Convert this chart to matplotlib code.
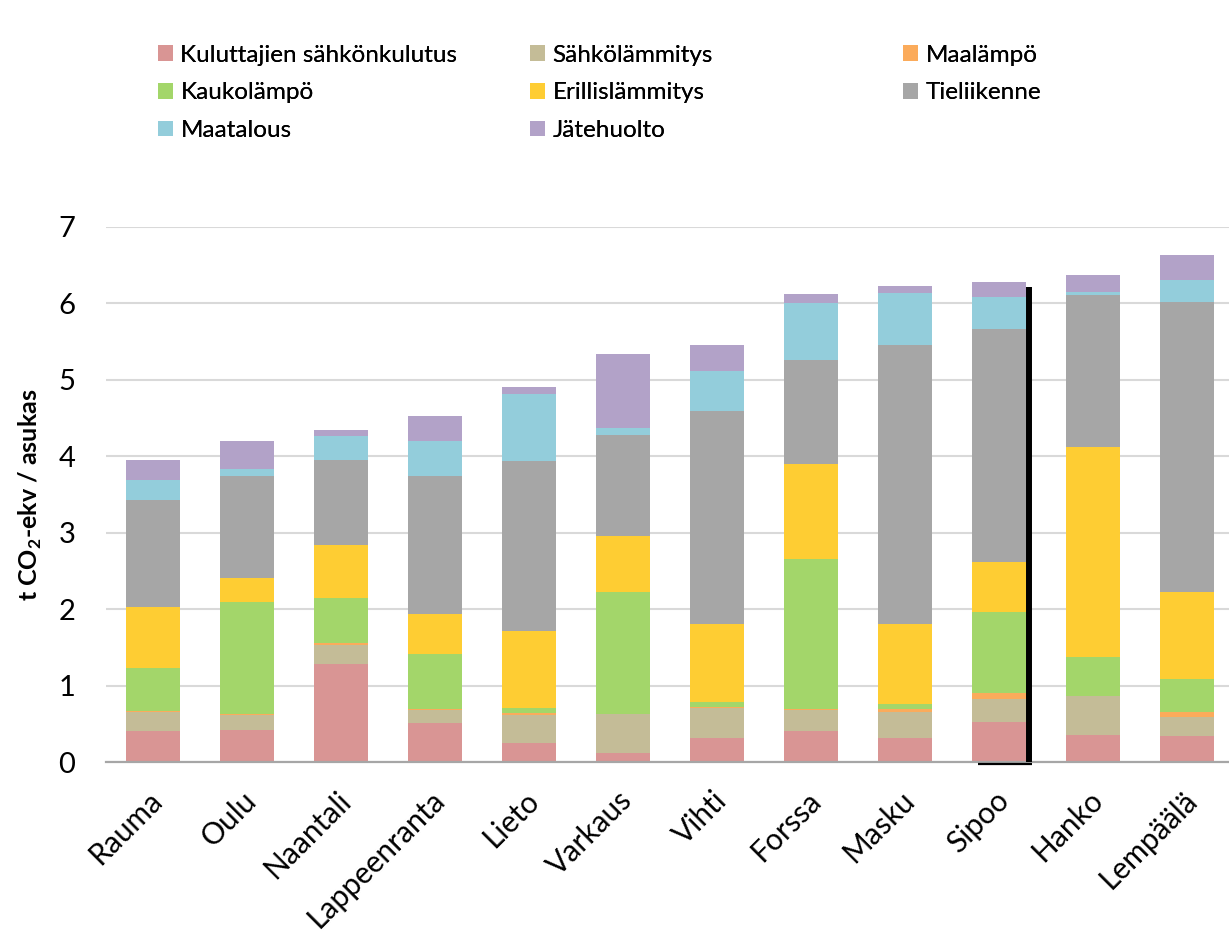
import matplotlib
matplotlib.use("Agg")
import matplotlib.pyplot as plt
import matplotlib.transforms as mtransforms
from matplotlib.patches import Patch
import numpy as np

plt.rcParams['font.family'] = ['Lato', 'DejaVu Sans']
plt.rcParams['mathtext.fontset'] = 'custom'
plt.rcParams['mathtext.rm'] = 'Lato'
plt.rcParams['mathtext.bf'] = 'Lato:bold'

cities = ["Rauma", "Oulu", "Naantali", "Lappeenranta", "Lieto", "Varkaus",
          "Vihti", "Forssa", "Masku", "Sipoo", "Hanko", "Lempäälä"]

series_names = ["Kuluttajien sähkönkulutus", "Sähkölämmitys", "Maalämpö",
                "Kaukolämpö", "Erillislämmitys", "Tieliikenne",
                "Maatalous", "Jätehuolto"]

kuluttajien = [0.40, 0.42, 1.28, 0.51, 0.25, 0.12, 0.32, 0.41, 0.32, 0.53, 0.35, 0.34]
sahkolammitys = [0.26, 0.19, 0.25, 0.17, 0.37, 0.51, 0.39, 0.27, 0.33, 0.30, 0.51, 0.25]
maalampo = [0.01, 0.02, 0.03, 0.01, 0.02, 0.00, 0.01, 0.02, 0.04, 0.07, 0.01, 0.06]
kaukolampo = [0.56, 1.46, 0.59, 0.72, 0.07, 1.59, 0.06, 1.96, 0.07, 1.06, 0.50, 0.43]
erillislammitys = [0.80, 0.32, 0.69, 0.53, 1.00, 0.74, 1.03, 1.24, 1.05, 0.66, 2.75, 1.15]
tieliikenne = [1.40, 1.33, 1.11, 1.80, 2.23, 1.32, 2.78, 1.36, 3.64, 3.04, 1.99, 3.79]
maatalous = [0.26, 0.09, 0.32, 0.46, 0.88, 0.09, 0.52, 0.74, 0.69, 0.43, 0.04, 0.29]
jatehuolto = [0.26, 0.37, 0.08, 0.33, 0.09, 0.97, 0.34, 0.12, 0.09, 0.19, 0.22, 0.32]

series = [kuluttajien, sahkolammitys, maalampo, kaukolampo,
          erillislammitys, tieliikenne, maatalous, jatehuolto]
colors = ["#D99594", "#C4BC97", "#FBAB5B", "#A3D66A",
          "#FECD33", "#A6A6A6", "#93CDDB", "#B2A2C8"]

# stray black shadow line next to the Sipoo bar in the original image
shadow_city = "Sipoo"
shadow_top = 6.21

fig = plt.figure(figsize=(12.29, 9.38), dpi=100)
ax = fig.add_axes([0.0862, 0.1876, 0.918, 0.5704])

x = np.arange(len(cities))
bw = 0.575
bottom = np.zeros(len(cities))
for vals, col in zip(series, colors):
    v = np.array(vals)
    ax.bar(x, v, bw, bottom=bottom, color=col, edgecolor='none', zorder=2)
    bottom += v

si = cities.index(shadow_city)
ax.plot([si + 0.32, si + 0.32], [0, shadow_top], color='black', lw=4.3,
        solid_capstyle='butt', zorder=3)
ax.plot([si - 0.225, si + 0.35], [-0.02, -0.02], color='black', lw=1.6,
        solid_capstyle='butt', zorder=3, clip_on=False)

ax.set_xlim(-0.5, len(cities) - 0.5)
ax.set_ylim(0, 7)
ax.set_yticks(range(0, 8))
ax.yaxis.grid(True, color='#D9D9D9', lw=1.5, zorder=0)
ax.set_axisbelow(True)
for s in ['top', 'right', 'left']:
    ax.spines[s].set_visible(False)
ax.spines['bottom'].set_color('#A6A6A6')
ax.spines['bottom'].set_linewidth(1.6)
ax.spines['bottom'].set_zorder(2.5)
ax.tick_params(axis='y', length=0, pad=22, labelsize=21)
ax.tick_params(axis='x', length=0, pad=15, labelsize=21.5)
ax.set_xticks(x)
ax.set_xticklabels(cities, rotation=45, ha='right', va='top', rotation_mode='anchor')
offset = mtransforms.ScaledTranslation(-5 / 100, -3 / 100, fig.dpi_scale_trans)
for lab in ax.get_xticklabels():
    lab.set_transform(lab.get_transform() + offset)
ax.set_ylabel(r't CO$_{\mathbf{2}}$-ekv / asukas', fontsize=18, fontweight='bold', labelpad=10)

handles = [Patch(facecolor=c, edgecolor='none') for c in colors]
cols = [[0, 3, 6], [1, 4, 7], [2, 5]]
col_x = [158, 530, 903]
for idxs, cx in zip(cols, col_x):
    leg = fig.legend([handles[i] for i in idxs], [series_names[i] for i in idxs],
                     loc='upper left', bbox_to_anchor=(cx / 1229, 1 - 44.5 / 938),
                     frameon=False, fontsize=17.5, handlelength=0.62, handleheight=0.62,
                     handletextpad=0.3, labelspacing=0.69, borderpad=0, borderaxespad=0)
    fig.add_artist(leg)

fig.savefig("out.png", dpi=100)
